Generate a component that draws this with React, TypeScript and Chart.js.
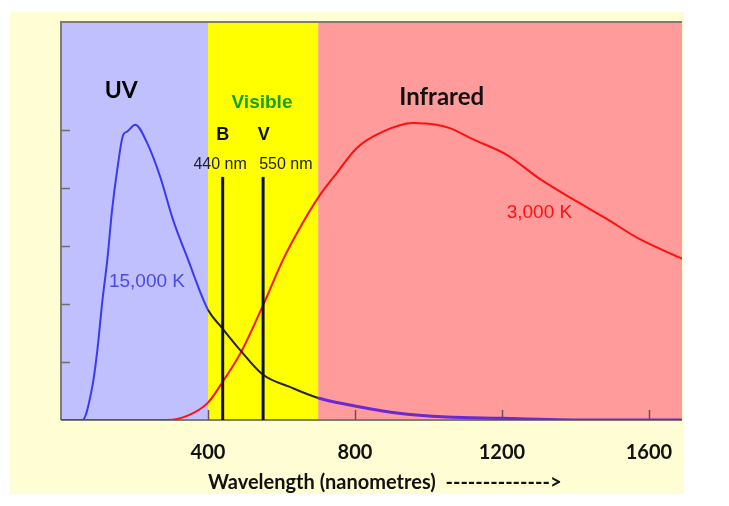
import React, { useEffect, useRef } from "react";
import { Chart, registerables } from "chart.js";

Chart.register(...registerables);

// Wavelength axis (nm) and relative intensity axis
const xTicks = [400, 800, 1200, 1600];
const yTicks = [1, 2, 3, 4, 5];
const xMin = 0;
const xMax = 1690;
const yMax = 6.86;

// Spectral bands: UV, Visible, Infrared
const bandNames = ["UV", "Visible", "Infrared"];
const bandStart = [0, 400, 700];
const bandEnd = [400, 700, 1690];

// 15,000 K blackbody curve
const hotX = [0, 58, 85, 99, 112, 126, 139, 153, 169, 180, 202, 234, 270, 305, 343, 400, 438, 487, 550, 623, 700, 786, 914, 1050, 1194, 1452, 1690];
const hotY = [0, 0, 0.57, 1.21, 2.02, 2.76, 3.62, 4.31, 4.91, 4.97, 5.09, 4.78, 4.19, 3.45, 2.81, 1.9, 1.59, 1.21, 0.78, 0.57, 0.38, 0.26, 0.12, 0.05, 0.03, 0, 0];

// 3,000 K blackbody curve
const coolX = [0, 290, 343, 400, 440, 490, 550, 604, 658, 705, 751, 805, 876, 957, 1022, 1058, 1120, 1213, 1302, 1392, 1484, 1574, 1690];
const coolY = [0, 0, 0.07, 0.3, 0.66, 1.17, 1.98, 2.76, 3.4, 3.88, 4.26, 4.69, 4.97, 5.12, 5.09, 5.03, 4.84, 4.57, 4.16, 3.81, 3.47, 3.12, 2.78];

// Filter markers
const markerNm = [440, 550];
const markerTop = [4.19, 4.19];
const markerLetters = ["B", "V"];
const markerLabels = ["440 nm", "550 nm"];

const curveLabels = ["15,000 K", "3,000 K"];
const axisTitle = "Wavelength (nanometres)  -------------->";

export default function App() {
  const ref = useRef<HTMLCanvasElement | null>(null);

  useEffect(() => {
    document.body.style.margin = "0";
    const canvas = ref.current;
    if (!canvas) return;

    const bandColors = ["#c0c0ff", "#ffff00", "#ff9b9b"];

    const spectrumPlugin = {
      id: "spectrum",
      beforeDraw(chart: any) {
        const { ctx, chartArea: a, scales } = chart;
        const x = scales.x;
        const y = scales.y;
        ctx.save();
        ctx.fillStyle = "#fffdd3";
        ctx.fillRect(10, 12, 674, 482);
        for (let i = 0; i < bandStart.length; i++) {
          const x0 = x.getPixelForValue(bandStart[i]);
          const x1 = x.getPixelForValue(bandEnd[i]);
          ctx.fillStyle = bandColors[i];
          ctx.fillRect(x0, a.top, x1 - x0, a.bottom - a.top);
        }
        ctx.strokeStyle = "#7d7d72";
        ctx.lineWidth = 2;
        ctx.beginPath();
        ctx.moveTo(a.left, a.bottom);
        ctx.lineTo(a.left, a.top);
        ctx.lineTo(a.right, a.top);
        ctx.stroke();
        ctx.beginPath();
        ctx.moveTo(a.left, a.bottom);
        ctx.lineTo(a.right, a.bottom);
        ctx.stroke();
        ctx.strokeStyle = "#6a5050";
        ctx.lineWidth = 1.5;
        xTicks.forEach((v) => {
          const px = Math.round(x.getPixelForValue(v)) + 0.5;
          ctx.beginPath();
          ctx.moveTo(px, a.bottom);
          ctx.lineTo(px, a.bottom - 10);
          ctx.stroke();
        });
        ctx.strokeStyle = "#6d6d6d";
        yTicks.forEach((v) => {
          const py = Math.round(y.getPixelForValue(v)) + 0.5;
          ctx.beginPath();
          ctx.moveTo(a.left, py);
          ctx.lineTo(a.left + 9, py);
          ctx.stroke();
        });
        ctx.restore();
      },
      afterDatasetsDraw(chart: any) {
        const { ctx, scales } = chart;
        const x = scales.x;
        const y = scales.y;
        const put = (t: string, nx: number, vy: number, font: string, color: string) => {
          ctx.font = font;
          ctx.fillStyle = color;
          ctx.textAlign = "center";
          ctx.textBaseline = "middle";
          ctx.fillText(t, x.getPixelForValue(nx), y.getPixelForValue(vy));
        };
        ctx.save();
        put(bandNames[0], 164, 5.67, "bold 23px Lato", "#000000");
        put(bandNames[1], 547, 5.47, "bold 19px 'Liberation Sans'", "#16a016");
        put(bandNames[2], 1036, 5.57, "bold 24px Lato", "#111111");
        put(markerLetters[0], 440, 4.91, "bold 18px 'Liberation Sans'", "#111111");
        put(markerLetters[1], 552, 4.91, "bold 18px 'Liberation Sans'", "#111111");
        put(markerLabels[0], 433, 4.41, "16px 'Liberation Sans'", "#222222");
        put(markerLabels[1], 612, 4.41, "16px 'Liberation Sans'", "#222222");
        put(curveLabels[0], 234, 2.38, "19px 'Liberation Sans'", "#4a4ae0");
        put(curveLabels[1], 1302, 3.57, "19px 'Liberation Sans'", "#ff1010");
        ctx.font = "bold 20px Lato";
        ctx.fillStyle = "#111111";
        ctx.textAlign = "left";
        ctx.textBaseline = "middle";
        ctx.fillText(axisTitle, x.getPixelForValue(400), 483);
        ctx.restore();
      },
    };

    const hotColor = (v: number) => (v >= 700 ? "#6a2ad0" : v >= 400 ? "#262626" : "#3a3af0");

    const chart = new Chart(canvas, {
      type: "line",
      data: {
        datasets: [
          {
            label: markerLetters[0],
            data: [
              { x: markerNm[0], y: 0 },
              { x: markerNm[0], y: markerTop[0] },
            ],
            borderColor: "#111111",
            borderWidth: 3,
            pointRadius: 0,
          },
          {
            label: markerLetters[1],
            data: [
              { x: markerNm[1], y: 0 },
              { x: markerNm[1], y: markerTop[1] },
            ],
            borderColor: "#111111",
            borderWidth: 3,
            pointRadius: 0,
          },
          {
            label: curveLabels[0],
            data: hotX.map((v, i) => ({ x: v, y: hotY[i] })),
            borderColor: "#3a3af0",
            borderWidth: 2,
            pointRadius: 0,
            cubicInterpolationMode: "monotone",
            segment: {
              borderColor: (c: any) => hotColor(c.p0.parsed.x),
              borderWidth: (c: any) => (c.p0.parsed.x >= 700 ? 3 : 2),
            },
          },
          {
            label: curveLabels[1],
            data: coolX.map((v, i) => ({ x: v, y: coolY[i] })),
            borderColor: "#ff1010",
            borderWidth: 2,
            pointRadius: 0,
            cubicInterpolationMode: "monotone",
          },
        ],
      },
      options: {
        animation: false,
        responsive: false,
        maintainAspectRatio: false,
        layout: { padding: { top: 22, right: 47, left: 0, bottom: 0 } },
        plugins: {
          legend: { display: false },
          tooltip: { enabled: false },
          title: { display: false },
        },
        scales: {
          x: {
            type: "linear",
            min: xMin,
            max: xMax,
            grid: { display: false, drawTicks: false },
            border: { display: false },
            afterBuildTicks: (s: any) => {
              s.ticks = xTicks.map((v) => ({ value: v }));
            },
            afterFit: (s: any) => {
              s.height = 86;
            },
            ticks: {
              padding: 21,
              maxRotation: 0,
              autoSkip: false,
              color: "#111111",
              font: { family: "Lato", weight: "bold", size: 20 },
              callback: (v: any) => String(v),
            },
          },
          y: {
            type: "linear",
            min: 0,
            max: yMax,
            grid: { display: false, drawTicks: false },
            border: { display: false },
            afterBuildTicks: (s: any) => {
              s.ticks = yTicks.map((v) => ({ value: v }));
            },
            afterFit: (s: any) => {
              s.width = 61;
            },
            ticks: { display: false },
          },
        },
      },
      plugins: [spectrumPlugin],
    } as any);

    return () => chart.destroy();
  }, []);

  return (
    <div style={{ width: 729, height: 506, background: "#ffffff" }}>
      <canvas ref={ref} width={729} height={506} style={{ display: "block" }} />
    </div>
  );
}
